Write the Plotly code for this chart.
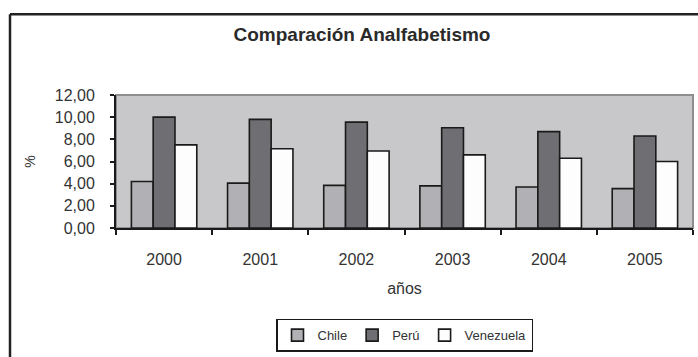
import plotly.graph_objects as go

# Tasa de analfabetismo (%) por país y año
anios = ["2000", "2001", "2002", "2003", "2004", "2005"]
chile = [4.20, 4.05, 3.85, 3.80, 3.70, 3.55]
peru = [10.00, 9.80, 9.55, 9.05, 8.70, 8.30]
venezuela = [7.50, 7.15, 6.95, 6.60, 6.30, 6.00]
y_ticks = [0, 2, 4, 6, 8, 10, 12]

W, H = 698, 357
ML, MR, MT, MB = 116, 5, 95, 127
PW, PH = W - ML - MR, H - MT - MB


def px_x(p):
    return (p - ML) / PW


def px_y(p):
    return (H - MB - p) / PH


FONT = "Liberation Sans, Arial, sans-serif"
EDGE = "#1a1a1a"

fig = go.Figure()
series = [("Chile", chile, "#b1b1b5"), ("Perú", peru, "#6f6f73"), ("Venezuela", venezuela, "#fdfdfd")]
for name, vals, color in series:
    fig.add_trace(go.Bar(
        x=anios, y=vals, name=name,
        marker=dict(color=color, line=dict(color=EDGE, width=1.6)),
    ))

# marco exterior (borde izquierdo y superior)
frame = dict(type="line", xref="paper", yref="paper", line=dict(color="#222222", width=2.5))
fig.add_shape(**frame, x0=px_x(10), x1=px_x(705), y0=px_y(13), y1=px_y(13))
fig.add_shape(**frame, x0=px_x(10), x1=px_x(10), y0=px_y(13), y1=px_y(365))
# borde gris del área de trazado
fig.add_shape(type="rect", xref="paper", yref="paper", x0=0, x1=1, y0=0, y1=1,
              line=dict(color="#8e8e90", width=2), layer="below")

fig.update_layout(
    width=W, height=H,
    margin=dict(l=ML, r=MR, t=MT, b=MB),
    paper_bgcolor="white",
    plot_bgcolor="#c8c8ca",
    separators=",.",
    barmode="group",
    bargap=0.32,
    bargroupgap=0,
    font=dict(family=FONT, color="#333333", size=15),
    title=dict(text="<b>Comparación Analfabetismo</b>", x=362 / W, xanchor="center",
               y=1 - 34 / H, yanchor="middle",
               font=dict(family=FONT, size=19, color="#2a2a2a")),
    showlegend=True,
    legend=dict(orientation="h", x=0.5, xanchor="center", y=px_y(322), yanchor="top",
                bordercolor=EDGE, borderwidth=1.5, bgcolor="white",
                font=dict(size=13, color="#333333"), itemwidth=30,
                traceorder="normal", tracegroupgap=0),
)

fig.update_xaxes(
    showline=True, linecolor=EDGE, linewidth=2,
    ticks="outside", tickson="boundaries", ticklen=5, tickcolor=EDGE, tickwidth=2,
    showgrid=False, ticklabelstandoff=16,
    tickfont=dict(size=16),
    title=dict(text="años", standoff=16, font=dict(size=16)),
)
fig.update_yaxes(
    range=[0, 12], tickvals=y_ticks, tickformat=".2f",
    showline=True, linecolor=EDGE, linewidth=2,
    ticks="outside", ticklen=4, tickcolor=EDGE, tickwidth=2,
    showgrid=False, zeroline=False, ticklabelstandoff=12,
    tickfont=dict(size=16),
    title=dict(text="%", standoff=16, font=dict(size=14)),
)

fig.write_html("out.html")
